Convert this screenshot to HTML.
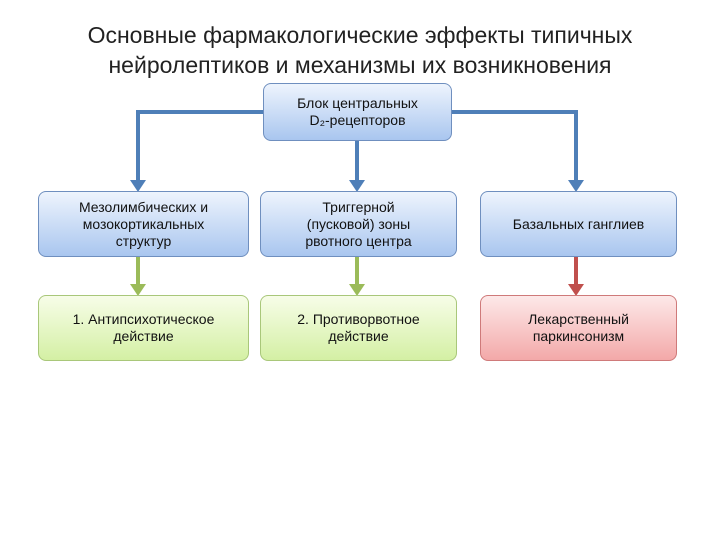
<!DOCTYPE html>
<html><head><meta charset="utf-8"><style>
body{margin:0;width:720px;height:540px;background:#fff;position:relative;overflow:hidden;font-family:"Liberation Sans","DejaVu Sans",sans-serif;}
.t{position:absolute;left:0;width:720px;text-align:center;font-size:23px;color:#222;line-height:30px;top:20px;}
.b{position:absolute;display:flex;align-items:center;justify-content:center;text-align:center;font-size:14px;line-height:17px;color:#111;border-radius:8px;box-sizing:border-box;}
.bl{background:linear-gradient(#eef4fd,#a9c6ef);border:1px solid #6f8fbf;}
.gr{background:linear-gradient(#f7fde8,#d4f0a4);border:1px solid #a9c77a;}
.rd{background:linear-gradient(#fde9e9,#f3a9a9);border:1px solid #cf7a7a;}
</style></head><body>
<div class="t">Основные фармакологические эффекты типичных<br>нейролептиков и механизмы их возникновения</div>
<svg width="720" height="540" style="position:absolute;left:0;top:0">
<g stroke="#4f7fb8" stroke-width="4" fill="none">
<polyline points="264,112 138,112 138,182"/>
<line x1="357" y1="140" x2="357" y2="182"/>
<polyline points="450,112 576,112 576,182"/>
</g>
<g fill="#4f7fb8">
<polygon points="130,180 146,180 138,192"/><polygon points="349,180 365,180 357,192"/><polygon points="568,180 584,180 576,192"/>
</g>
<g stroke="#9bbb59" stroke-width="4"><line x1="138" y1="256" x2="138" y2="286"/><line x1="357" y1="256" x2="357" y2="286"/></g>
<g fill="#9bbb59"><polygon points="130,284 146,284 138,296"/><polygon points="349,284 365,284 357,296"/></g>
<line x1="576" y1="256" x2="576" y2="286" stroke="#c0504d" stroke-width="4"/>
<polygon points="568,284 584,284 576,296" fill="#c0504d"/>
</svg>
<div class="b bl" style="left:263px;top:83px;width:189px;height:58px">Блок центральных<br>D₂-рецепторов</div>
<div class="b bl" style="left:38px;top:191px;width:211px;height:66px">Мезолимбических и<br>мозокортикальных<br>структур</div>
<div class="b bl" style="left:260px;top:191px;width:197px;height:66px">Триггерной<br>(пусковой) зоны<br>рвотного центра</div>
<div class="b bl" style="left:480px;top:191px;width:197px;height:66px">Базальных ганглиев</div>
<div class="b gr" style="left:38px;top:295px;width:211px;height:66px">1. Антипсихотическое<br>действие</div>
<div class="b gr" style="left:260px;top:295px;width:197px;height:66px">2. Противорвотное<br>действие</div>
<div class="b rd" style="left:480px;top:295px;width:197px;height:66px">Лекарственный<br>паркинсонизм</div>
</body></html>
